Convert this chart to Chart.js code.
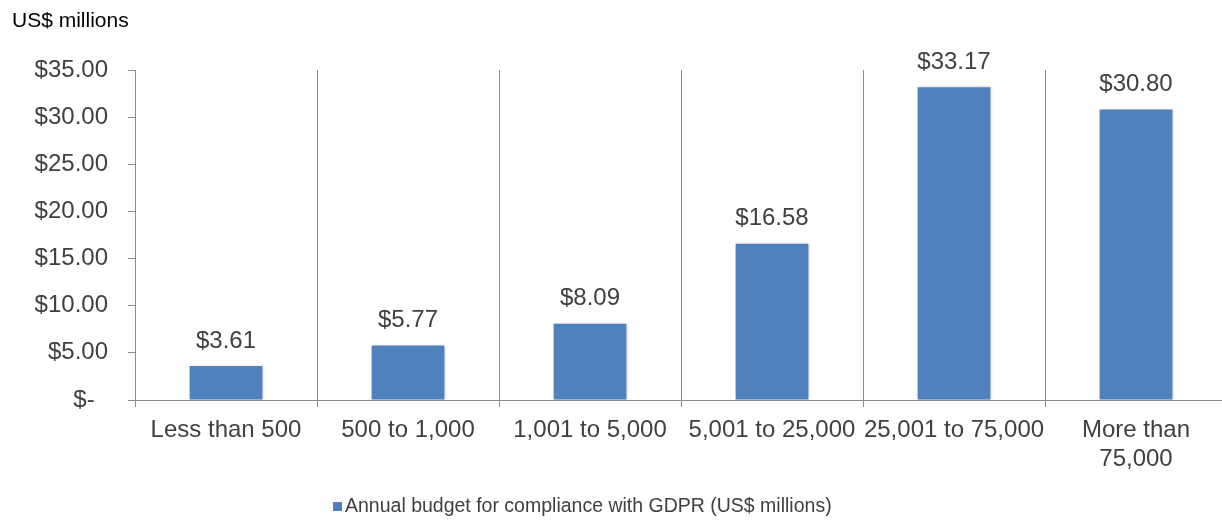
<!DOCTYPE html>
<html>
<head>
<meta charset="utf-8">
<script src="https://cdn.jsdelivr.net/npm/chart.js@4/dist/chart.umd.min.js"></script>
<style>
  html, body { margin: 0; padding: 0; background: #fff; overflow: hidden; }
  #wrap { width: 1227px; height: 520px; position: relative; }
</style>
</head>
<body>
<div id="wrap"><canvas id="gdprChart"></canvas></div>
<script>
// company size buckets (employees)
const categorias = ["Less than 500", "500 to 1,000", "1,001 to 5,000", "5,001 to 25,000", "25,001 to 75,000", ["More than", "75,000"]];
const presupuesto = [3.61, 5.77, 8.09, 16.58, 33.17, 30.80];
const ticksY = [0, 5, 10, 15, 20, 25, 30, 35];
const serieNombre = "Annual budget for compliance with GDPR (US$ millions)";
const unidad = "US$ millions";

const gris = "#8c8c8c";
const texto = "#404040";
const azul = "#4f81bd";
const fuente = "'Liberation Sans', Arial, sans-serif";

// etiquetas de valor, titulo de unidad y leyenda
const etiquetas = {
  id: "etiquetas",
  afterDatasetsDraw(chart) {
    const ctx = chart.ctx;
    ctx.save();
    ctx.font = "24px " + fuente;
    ctx.fillStyle = texto;
    ctx.textAlign = "center";
    ctx.textBaseline = "middle";
    chart.getDatasetMeta(0).data.forEach((bar, i) => {
      ctx.fillText("$" + presupuesto[i].toFixed(2), bar.x, bar.y - 25);
    });
    ctx.font = "21px " + fuente;
    ctx.fillStyle = "#000";
    ctx.textAlign = "left";
    ctx.fillText(unidad, 12, 21);

    // leyenda
    ctx.fillStyle = azul;
    ctx.fillRect(333, 502, 9, 9);
    ctx.font = "19.5px " + fuente;
    ctx.fillStyle = texto;
    ctx.fillText(serieNombre, 345, 507);
    ctx.restore();
  }
};

const sombra = {
  id: "sombra",
  beforeDatasetDraw(chart) {
    const ctx = chart.ctx;
    ctx.save();
    ctx.shadowColor = "rgba(0,0,0,0.25)";
    ctx.shadowBlur = 3;
    ctx.shadowOffsetX = 1;
    ctx.shadowOffsetY = 0;
  },
  afterDatasetDraw(chart) {
    chart.ctx.restore();
  }
};

new Chart(document.getElementById("gdprChart"), {
  type: "bar",
  data: {
    labels: categorias,
    datasets: [{
      label: serieNombre,
      data: presupuesto,
      backgroundColor: azul,
      borderWidth: 0,
      categoryPercentage: 1,
      barPercentage: 0.4
    }]
  },
  options: {
    responsive: true,
    maintainAspectRatio: false,
    animation: false,
    layout: { padding: { top: 70, right: 0, left: 0, bottom: 42 } },
    plugins: {
      legend: { display: false },
      tooltip: { enabled: false }
    },
    scales: {
      x: {
        grid: { color: gris, offset: true, tickLength: 7 },
        border: { color: gris },
        ticks: { color: texto, font: { size: 24, family: fuente }, padding: 9, maxRotation: 0, autoSkip: false },
        afterFit: (s) => { s.height = 78; }
      },
      y: {
        min: 0,
        max: 35,
        afterBuildTicks: (s) => { s.ticks = ticksY.map(v => ({ value: v })); },
        grid: { drawOnChartArea: false, color: gris, tickLength: 7 },
        border: { color: gris },
        ticks: {
          color: texto,
          font: { size: 24, family: fuente },
          padding: 20,
          callback: (v) => v === 0 ? "$-  " : "$" + v.toFixed(2)
        },
        afterFit: (s) => { s.width = 135; }
      }
    }
  },
  plugins: [sombra, etiquetas]
});
</script>
</body>
</html>
